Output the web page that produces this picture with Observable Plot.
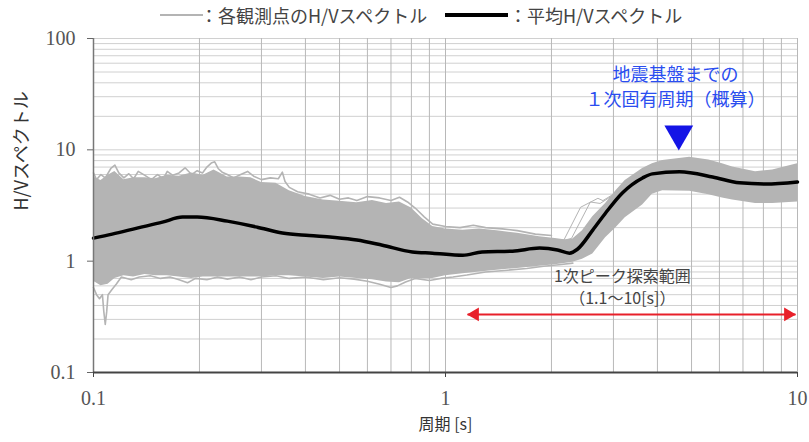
<!DOCTYPE html>
<html><head><meta charset="utf-8">
<script src="https://cdn.jsdelivr.net/npm/d3@7"></script>
<script src="https://cdn.jsdelivr.net/npm/@observablehq/plot@0.6"></script>
<style>
body{margin:0;background:#fff;}
#wrap{position:relative;width:809px;height:442px;overflow:hidden;font-family:"Noto Sans CJK JP",sans-serif;}
#legend{position:absolute;left:0;top:0;width:809px;height:30px;}
.lg{position:absolute;top:5px;font-size:18px;color:#444;white-space:nowrap;line-height:20px;}
.ln{position:absolute;}
#chart{position:absolute;left:0;top:30px;}
</style></head>
<body>
<div id="wrap">
  <div id="legend"></div>
  <div id="chart"></div>
</div>
<script>
// ---- data ----
const legendLabels = ["：各観測点のH/Vスペクトル", "：平均H/Vスペクトル"];
const xTicks = [0.1, 1, 10];
const yTicks = [0.1, 1, 10, 100];
const xLabel = "周期 [s]";
const yLabel = "H/Vスペクトル";

// mean H/V spectrum [period s, H/V]
const meanCurve = [
  [0.1,1.61],[0.113,1.75],[0.133,1.98],[0.157,2.24],[0.179,2.49],[0.197,2.49],[0.24,2.29],
  [0.292,2.02],[0.344,1.79],[0.41,1.70],[0.477,1.64],[0.56,1.55],[0.662,1.39],[0.805,1.21],
  [0.918,1.18],[1.12,1.13],[1.27,1.21],[1.55,1.23],[1.85,1.31],[2.08,1.26],[2.25,1.18],
  [2.37,1.28],[2.62,1.90],[2.85,2.71],[3.18,4.10],[3.63,5.59],[3.87,6.08],[4.62,6.34],
  [5.74,5.71],[6.84,5.05],[8.11,4.94],[10,5.15]
];

// dense part of the individual station spectra [period, low, high]
const stationBand = [
  [0.100,0.66,5.7],[0.105,0.60,5.3],[0.110,0.62,5.9],[0.115,0.70,6.4],[0.122,0.74,5.4],
  [0.130,0.72,5.6],[0.140,0.76,5.6],[0.150,0.74,5.5],[0.162,0.74,5.9],[0.175,0.72,5.8],
  [0.190,0.70,6.2],[0.205,0.72,5.9],[0.220,0.72,6.6],[0.240,0.72,5.7],[0.260,0.72,5.7],
  [0.280,0.72,5.6],[0.300,0.72,5.1],[0.330,0.74,5.0],[0.360,0.74,4.3],[0.400,0.72,3.8],
  [0.450,0.70,3.55],[0.500,0.72,3.45],[0.560,0.70,3.35],[0.620,0.68,3.5],[0.680,0.65,3.3],
  [0.740,0.64,3.4],[0.800,0.70,3.0],[0.860,0.70,2.4],[0.920,0.70,2.05],[1.00,0.74,1.95],
  [1.12,0.77,1.9],[1.25,0.80,1.95],[1.40,0.83,1.88],[1.60,0.86,1.78],[1.85,0.90,1.66],
  [2.05,0.93,1.6],[2.20,0.96,1.55],[2.30,0.98,1.58],[2.45,1.04,1.88],[2.62,1.16,2.5],
  [2.85,1.62,3.3],[3.05,2.0,4.3],[3.24,2.45,5.3],[3.63,3.2,6.8],[3.87,4.0,7.5],
  [4.14,4.3,8.0],[4.94,4.25,8.6],[5.60,3.95,8.1],[6.12,3.7,7.5],[6.54,3.55,7.0],
  [7.60,3.3,6.35],[8.50,3.3,6.6],[10.0,3.4,7.5]
];

// top-most station traces (spiky upper edge) [period, H/V]
const upperTrace = [
  [0.1,6.2],[0.102,5.4],[0.105,6.0],[0.108,5.6],[0.112,6.8],[0.115,7.3],[0.118,6.2],[0.122,5.6],
  [0.126,6.1],[0.13,5.5],[0.134,6.4],[0.14,5.9],[0.146,5.4],[0.152,6.0],[0.158,5.5],[0.162,6.4],
  [0.168,5.9],[0.175,6.2],[0.182,6.9],[0.19,6.0],[0.197,6.5],[0.204,6.2],[0.21,7.0],[0.216,7.6],
  [0.221,7.8],[0.226,6.8],[0.232,6.3],[0.24,6.0],[0.25,5.6],[0.262,6.0],[0.274,6.4],[0.285,5.8],
  [0.3,5.4],[0.318,5.6],[0.335,5.5],[0.344,6.3],[0.35,5.2],[0.36,4.6],[0.38,4.2],[0.41,4.0],
  [0.44,3.7],[0.47,3.9],[0.5,3.6],[0.53,3.7],[0.56,3.5],[0.6,3.8],[0.65,3.7],[0.7,3.5],
  [0.74,3.75],[0.78,3.4],[0.82,3.0],[0.87,2.5],[0.92,2.15],[1.0,2.05],[1.1,2.0],[1.2,2.1],
  [1.3,2.0],[1.45,1.95],[1.6,1.88],[1.8,1.75],[2.0,1.7]
];

// bottom-most station traces (lower edge, with the dip near 0.11 s)
const lowerTrace = [
  [0.1,0.58],[0.102,0.5],[0.104,0.46],[0.106,0.5],[0.107,0.35],[0.108,0.27],[0.109,0.35],
  [0.11,0.5],[0.113,0.56],[0.116,0.62],[0.12,0.72],[0.128,0.68],[0.135,0.72],[0.145,0.74],
  [0.155,0.7],[0.165,0.72],[0.175,0.68],[0.185,0.64],[0.195,0.7],[0.21,0.68],[0.225,0.72],
  [0.24,0.69],[0.26,0.72],[0.28,0.68],[0.3,0.72],[0.33,0.74],[0.36,0.7],[0.4,0.72],[0.45,0.68],
  [0.5,0.71],[0.55,0.69],[0.6,0.66],[0.65,0.62],[0.7,0.58],[0.73,0.6],[0.77,0.65],[0.82,0.7],
  [0.9,0.67],[0.97,0.7],[1.05,0.72],[1.15,0.75],[1.3,0.8],[1.5,0.83],[1.7,0.86],[1.9,0.9],
  [2.1,0.93],[2.3,0.96]
];

// a couple of station curves that rise earlier than the rest
const earlyRiseA = [[1.9,1.5],[2.17,1.55],[2.42,3.05],[2.71,3.67],[2.8,3.5],[3.0,4.0]];
const earlyRiseB = [[2.0,1.45],[2.28,1.6],[2.58,3.4],[2.75,3.3],[2.95,3.8]];

// annotations
const basementLines = ["地震基盤までの", "１次固有周期（概算）"];
const basementLineY = [46.6, 27.7];
const basementX = 4.5;
const basementMarker = [4.6, 13.9];
const rangeLines = ["1次ピーク探索範囲", "（1.1～10[s]）"];
const rangeLineY = [0.728, 0.462];
const rangeX = 3.18;
const rangeArrow = [1.155, 9.87, 0.332];

// ---- legend (HTML above the SVG) ----
const legend = document.getElementById("legend");
legend.innerHTML =
  `<div class="ln" style="left:160px;top:14px;width:43px;height:2px;background:#b4b4b4"></div>` +
  `<div class="lg" style="left:200px">${legendLabels[0]}</div>` +
  `<div class="ln" style="left:445px;top:13px;width:63px;height:4px;background:#000"></div>` +
  `<div class="lg" style="left:509px">${legendLabels[1]}</div>`;

// ---- grid positions (scale-based) ----
const mult = [1,2,3,4,5,6,7,8,9];
const xGrid = [0.1, 1].flatMap(d => mult.map(m => +(d*m).toPrecision(3))).concat([10]);
const yGrid = [0.1, 1, 10].flatMap(d => mult.map(m => +(d*m).toPrecision(3))).concat([100]);

const band = stationBand.map(([p, lo, hi]) => ({p, lo, hi}));
const pts = a => a.map(([p, v]) => ({p, v}));

const gray = "#b4b4b4";
const red = "#e8202a";
const blue = "#2a4df0";
const cjk = "Noto Sans CJK JP";
const serif = "Liberation Serif";

const chart = Plot.plot({
  width: 809, height: 412,
  marginLeft: 93, marginRight: 12, marginTop: 8, marginBottom: 70,
  x: {type: "log", domain: [0.1, 10]},
  y: {type: "log", domain: [0.1, 100]},
  style: {background: "#fff", overflow: "visible"},
  marks: [
    Plot.ruleY(yGrid, {stroke: "#d0d0d0", strokeWidth: 1}),
    Plot.ruleX(xGrid, {stroke: "#b8b8b8", strokeWidth: 1}),
    Plot.areaY(band, {x: "p", y1: "lo", y2: "hi", fill: gray}),
    Plot.lineY(pts(upperTrace), {x: "p", y: "v", stroke: gray, strokeWidth: 1.6}),
    Plot.lineY(pts(lowerTrace), {x: "p", y: "v", stroke: gray, strokeWidth: 1.6}),
    Plot.lineY(pts(earlyRiseA), {x: "p", y: "v", stroke: gray, strokeWidth: 1}),
    Plot.lineY(pts(earlyRiseB), {x: "p", y: "v", stroke: gray, strokeWidth: 1}),
    Plot.lineY(pts(meanCurve), {x: "p", y: "v", stroke: "#000", strokeWidth: 3.5, curve: "monotone-x"}),
    Plot.ruleX([0.1], {stroke: "#777", strokeWidth: 1.5}),
    Plot.ruleY([0.1], {stroke: "#444", strokeWidth: 2}),
    Plot.axisY(yTicks, {tickSize: 6, tickPadding: 12, tickFormat: d => String(d), fontSize: 20,
      fontFamily: serif, fill: "#555", stroke: "#666", label: null}),
    Plot.axisX(xTicks, {tickSize: 5, tickPadding: 13, tickFormat: d => String(d), fontSize: 20,
      fontFamily: serif, fill: "#555", stroke: "#444", label: null}),
    Plot.text([xLabel], {frameAnchor: "bottom", dy: 57, fontSize: 16, fontFamily: cjk, fill: "#333"}),
    Plot.text([yLabel], {frameAnchor: "left", dx: -71, dy: 5, rotate: -90, fontSize: 18, fontFamily: cjk, fill: "#333"}),
    // basement annotation
    Plot.text(basementLines, {x: () => basementX, y: (d, i) => basementLineY[i],
      fill: blue, fontSize: 18, fontFamily: cjk}),
    Plot.dot([basementMarker], {x: d => d[0], y: d => d[1], symbol: "triangle", rotate: 180,
      r: 10.7, fill: "#1414e6", stroke: null}),
    // peak search range
    Plot.text(rangeLines, {x: () => rangeX, y: (d, i) => rangeLineY[i],
      fill: "#444", fontSize: 16, fontFamily: cjk}),
    Plot.link([rangeArrow], {x1: d => d[0], x2: d => d[1], y1: d => d[2], y2: d => d[2],
      stroke: red, strokeWidth: 2}),
    Plot.dot([rangeArrow], {x: d => d[0], y: d => d[2], symbol: "triangle", rotate: -90,
      r: 5.1, dx: 7.4, fill: red, stroke: null}),
    Plot.dot([rangeArrow], {x: d => d[1], y: d => d[2], symbol: "triangle", rotate: 90,
      r: 5.1, dx: -7.4, fill: red, stroke: null})
  ]
});
document.getElementById("chart").appendChild(chart);
</script>
</body></html>
